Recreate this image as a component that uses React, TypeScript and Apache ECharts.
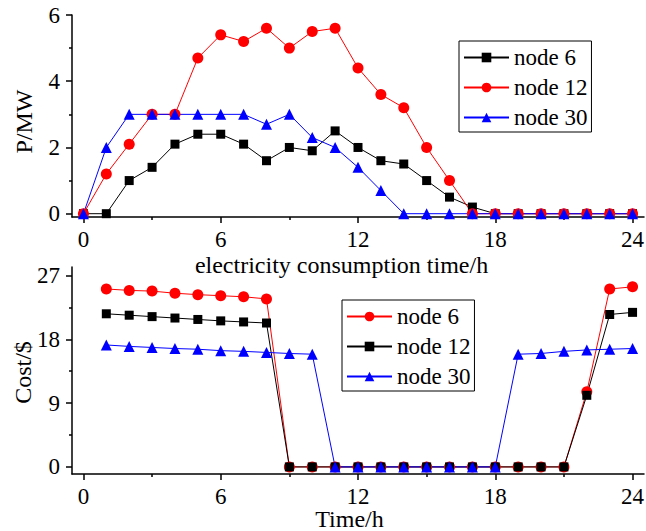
import React, { useEffect, useRef } from "react";
import * as echarts from "echarts";

// ---- data ----
const hoursTop = [0, 1, 2, 3, 4, 5, 6, 7, 8, 9, 10, 11, 12, 13, 14, 15, 16, 17, 18, 19, 20, 21, 22, 23, 24];
const powerNode6 = [0, 0, 1.0, 1.4, 2.1, 2.4, 2.4, 2.1, 1.6, 2.0, 1.9, 2.5, 2.0, 1.6, 1.5, 1.0, 0.5, 0.2, 0, 0, 0, 0, 0, 0, 0];
const powerNode12 = [0, 1.2, 2.1, 3.0, 3.0, 4.7, 5.4, 5.2, 5.6, 5.0, 5.5, 5.6, 4.4, 3.6, 3.2, 2.0, 1.0, 0, 0, 0, 0, 0, 0, 0, 0];
const powerNode30 = [0, 2.0, 3.0, 3.0, 3.0, 3.0, 3.0, 3.0, 2.7, 3.0, 2.3, 2.0, 1.4, 0.7, 0, 0, 0, 0, 0, 0, 0, 0, 0, 0, 0];

const hoursBottom = [1, 2, 3, 4, 5, 6, 7, 8, 9, 10, 11, 12, 13, 14, 15, 16, 17, 18, 19, 20, 21, 22, 23, 24];
const costNode6 = [25.1, 24.9, 24.8, 24.5, 24.3, 24.15, 24.0, 23.7, 0, 0, 0, 0, 0, 0, 0, 0, 0, 0, 0, 0, 0, 10.6, 25.1, 25.4];
const costNode12 = [21.6, 21.4, 21.2, 21.0, 20.8, 20.6, 20.45, 20.3, 0, 0, 0, 0, 0, 0, 0, 0, 0, 0, 0, 0, 0, 10.1, 21.5, 21.8];
const costNode30 = [17.2, 17.0, 16.85, 16.7, 16.6, 16.4, 16.3, 16.15, 16.0, 15.9, 0, 0, 0, 0, 0, 0, 0, 0, 15.9, 16.0, 16.3, 16.5, 16.6, 16.7];

const xMajorTicks = [0, 6, 12, 18, 24];
const xMinorTicks = [3, 9, 15, 21];
const powerMajorTicks = [0, 2, 4, 6];
const powerMinorTicks = [1, 3, 5];
const costMajorTicks = [0, 9, 18, 27];
const costMinorTicks = [4.5, 13.5, 22.5];

const legendNames = ["node 6", "node 12", "node 30"];

const FONT = "Liberation Serif";
const BLACK = "#000000";
const RED = "#ff0000";
const BLUE = "#0000ff";

function pairs(xs: number[], ys: number[]) {
  return xs.map((x, i) => [x, ys[i]]);
}

function mainX(gridIndex: number) {
  return {
    type: "value",
    gridIndex,
    position: "bottom",
    min: -0.5,
    max: 24.5,
    axisLine: { show: true, onZero: false, lineStyle: { color: BLACK, width: 1.5 } },
    axisTick: { show: true, customValues: xMajorTicks, length: 6, inside: false, lineStyle: { color: BLACK, width: 1.5 } },
    axisLabel: { show: true, customValues: xMajorTicks, fontSize: 23, fontFamily: FONT, color: BLACK, margin: 11 },
    splitLine: { show: false },
  };
}
function minorX(gridIndex: number) {
  return {
    type: "value",
    gridIndex,
    position: "bottom",
    offset: 0,
    min: -0.5,
    max: 24.5,
    axisLine: { show: false, onZero: false },
    axisTick: { show: true, customValues: xMinorTicks, length: 3, lineStyle: { color: BLACK, width: 1.5 } },
    axisLabel: { show: false },
    splitLine: { show: false },
  };
}
function mainY(gridIndex: number, min: number, max: number, ticks: number[]) {
  return {
    type: "value",
    gridIndex,
    position: "left",
    min,
    max,
    axisLine: { show: true, onZero: false, lineStyle: { color: BLACK, width: 1.5 } },
    axisTick: { show: true, customValues: ticks, length: 6, lineStyle: { color: BLACK, width: 1.5 } },
    axisLabel: { show: true, customValues: ticks, fontSize: 23, fontFamily: FONT, color: BLACK, margin: 12 },
    splitLine: { show: false },
  };
}
function minorY(gridIndex: number, min: number, max: number, ticks: number[]) {
  return {
    type: "value",
    gridIndex,
    position: "left",
    offset: 0,
    min,
    max,
    axisLine: { show: false, onZero: false },
    axisTick: { show: true, customValues: ticks, length: 3, lineStyle: { color: BLACK, width: 1.5 } },
    axisLabel: { show: false },
    splitLine: { show: false },
  };
}

function lineSeries(name: string, x: number, y: number, data: number[][], color: string, symbol: string, size: number) {
  return {
    type: "line",
    name,
    xAxisIndex: x,
    yAxisIndex: y,
    data,
    symbol,
    symbolSize: size,
    showAllSymbol: true,
    itemStyle: { color },
    lineStyle: { color, width: 1 },
    emphasis: { disabled: true },
  };
}

function legendBox(left: number, top: number, data: string[]) {
  return {
    show: true,
    orient: "vertical",
    left,
    top,
    data,
    formatter: (n: string) => n.replace(/^cost /, ""),
    padding: [5, 4, 3, 4],
    itemGap: 7,
    itemWidth: 45,
    itemHeight: 12,
    borderColor: BLACK,
    borderWidth: 1,
    backgroundColor: "#ffffff",
    selectedMode: false,
    textStyle: { fontSize: 23, fontFamily: FONT, color: BLACK },
  };
}

function axisName(text: string, x: number, y: number, rotation = 0) {
  return {
    type: "text",
    x,
    y,
    rotation,
    style: {
      text,
      fontSize: 24,
      fontFamily: FONT,
      fill: BLACK,
      align: "center",
      verticalAlign: "middle",
      textAlign: "center",
      textVerticalAlign: "middle",
    },
  };
}

export default function App() {
  const ref = useRef<HTMLDivElement>(null);
  useEffect(() => {
    if (!ref.current) return;
    const chart = echarts.init(ref.current, undefined, { renderer: "svg" });
    const option: any = {
      animation: false,
      backgroundColor: "#ffffff",
      textStyle: { fontFamily: FONT },
      grid: [
        { left: 72, top: 15, width: 572, height: 202, outerBoundsMode: "none", containLabel: false },
        { left: 72, top: 267, width: 572, height: 207, outerBoundsMode: "none", containLabel: false },
      ],
      xAxis: [mainX(0), minorX(0), mainX(1), minorX(1)],
      yAxis: [
        mainY(0, -0.1, 6, powerMajorTicks),
        minorY(0, -0.1, 6, powerMinorTicks),
        mainY(1, -1, 28.2, costMajorTicks),
        minorY(1, -1, 28.2, costMinorTicks),
      ],
      legend: [
        legendBox(459, 41, legendNames),
        legendBox(342, 300, legendNames.map((n) => "cost " + n)),
      ],
      series: [
        lineSeries("node 6", 0, 0, pairs(hoursTop, powerNode6), BLACK, "rect", 9),
        lineSeries("node 12", 0, 0, pairs(hoursTop, powerNode12), RED, "circle", 11),
        lineSeries("node 30", 0, 0, pairs(hoursTop, powerNode30), BLUE, "triangle", 11),
        lineSeries("cost node 6", 2, 2, pairs(hoursBottom, costNode6), RED, "circle", 11),
        lineSeries("cost node 12", 2, 2, pairs(hoursBottom, costNode12), BLACK, "rect", 9),
        lineSeries("cost node 30", 2, 2, pairs(hoursBottom, costNode30), BLUE, "triangle", 11),
      ],
      graphic: [
        axisName("P/MW", 23.5, 121.5, Math.PI / 2),
        axisName("electricity consumption time/h", 341.5, 265),
        axisName("Cost/$", 23, 372.5, Math.PI / 2),
        axisName("Time/h", 349.5, 519),
      ],
    };
    chart.setOption(option);
    return () => chart.dispose();
  }, []);
  return (
    <div
      ref={ref}
      style={{ position: "fixed", left: 0, top: 0, width: 646, height: 531, background: "#fff" }}
    />
  );
}
